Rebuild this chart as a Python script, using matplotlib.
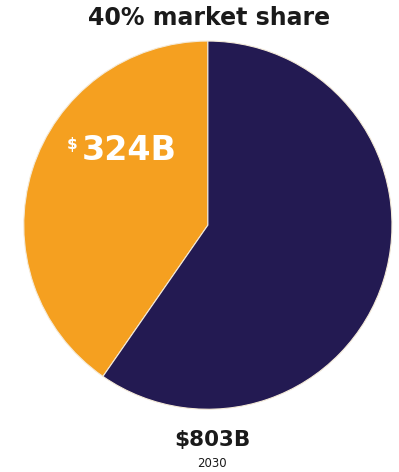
import matplotlib.pyplot as plt

# market size in billions of dollars
total = 803
share = 324
year = '2030'
title = '40% market share'

colors = ['#F5A020', '#231A52']

fig = plt.figure(figsize=(3.99, 4.72), dpi=100)
fig.patch.set_facecolor('white')

ax = fig.add_axes([0.055, 0.129, 0.932, 0.788])
ax.pie([share, total - share], startangle=90, counterclock=True,
       colors=colors, wedgeprops=dict(edgecolor='#f4ead8', linewidth=0.8))
ax.set_aspect('equal')
ax.set_xlim(-1.01, 1.01)
ax.set_ylim(-1.01, 1.01)
ax.axis('off')

fig.text(0.524, 0.962, title, ha='center', va='center',
         fontsize=17, fontweight='bold', color='#1a1a1a')

# value of the orange slice, with a small dollar sign
fig.text(0.325, 0.682, '%dB' % share, ha='center', va='center',
         fontsize=24, fontweight='bold', color='white')
fig.text(0.18, 0.693, '$', ha='center', va='center',
         fontsize=11, fontweight='bold', color='white')

fig.text(0.533, 0.068, '$%dB' % total, ha='center', va='center',
         fontsize=15.5, fontweight='bold', color='#1a1a1a')
fig.text(0.532, 0.019, year, ha='center', va='center',
         fontsize=8.5, color='#1a1a1a')

fig.savefig('out.png', dpi=100)
